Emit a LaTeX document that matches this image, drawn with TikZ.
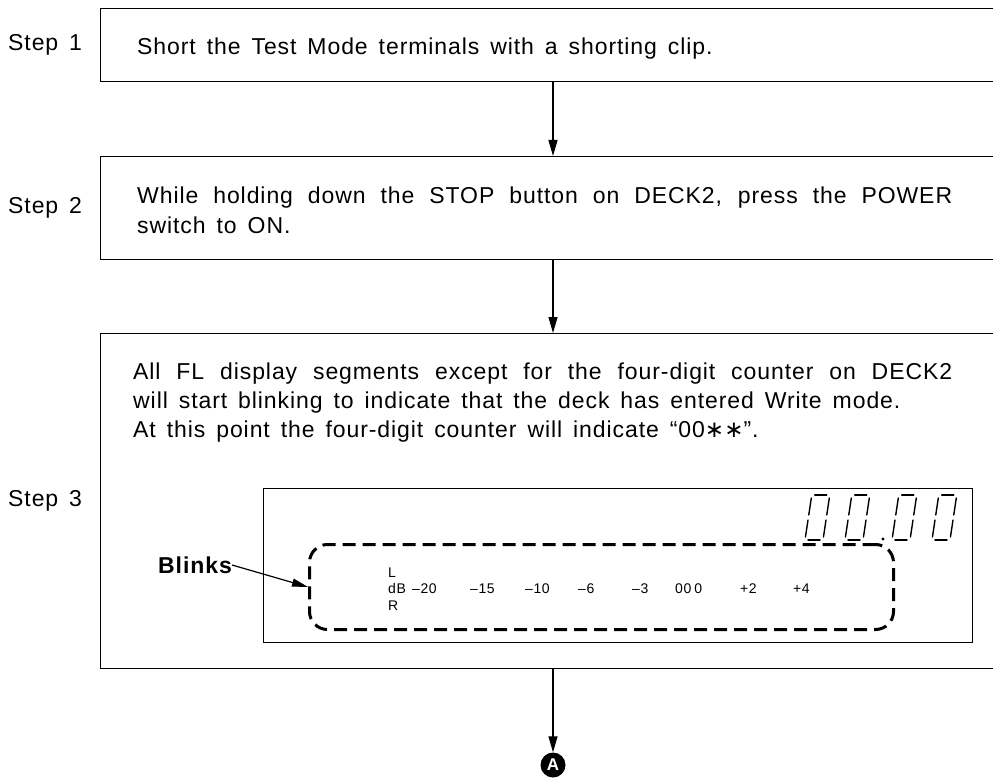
\documentclass[tikz,border=0pt]{standalone}
\usepackage{fontspec}
\setmainfont{Liberation Sans}[LetterSpace=4, WordSpace=1.5]
\newfontfamily\symfont{DejaVu Sans}
\usetikzlibrary{arrows.meta}

%% slanted seven-segment zero, #1 = lower left corner
\newcommand{\sevenzero}[1]{%
  \begin{scope}[shift={(#1)}, xslant=0.15, line width=1.4pt, line cap=round]
    \draw (3,-45) -- (15,-45);
    \draw (18,-42) -- (18,-25);
    \draw (18,-20) -- (18,-3);
    \draw (3,0) -- (15,0);
    \draw (0,-3) -- (0,-20);
    \draw (0,-25) -- (0,-42);
  \end{scope}}

\begin{document}
\begin{tikzpicture}[x=1pt, y=-1pt,
  every node/.style={font=\fontsize{23}{29}\selectfont, inner sep=0pt},
  stepbox/.style={draw, line width=1.4pt, rectangle, anchor=north west,
                  minimum width=930pt},
  steplabel/.style={anchor=west},
  boxtext/.style={anchor=north west, align=justify},
  flow/.style={line width=1.2pt, -{Triangle[length=16pt, width=9pt]}},
  display/.style={draw, line width=1.3pt, rectangle, anchor=north west,
                  minimum width=709pt, minimum height=154pt},
  blinkbox/.style={draw, line width=3pt, dash pattern=on 13pt off 7pt,
                   rounded corners=18pt, rectangle, anchor=north west,
                   minimum width=584pt, minimum height=85pt},
  scalelbl/.style={font=\fontsize{14}{15}\selectfont, anchor=base west},
  endmark/.style={circle, fill=black, text=white, minimum size=25pt,
                  font=\fontsize{17}{17}\selectfont\bfseries},
]
\useasboundingbox (0,0) rectangle (993,778);
\clip (0,0) rectangle (993,778);

%% ── Step boxes ──────────────────────────────────────────────────────────────
\node[stepbox, minimum height=73pt]  (box1) at (100,8)   {};
\node[stepbox, minimum height=103pt] (box2) at (100,156) {};
\node[stepbox, minimum height=335pt] (box3) at (100,333) {};

\node[steplabel] (lab1) at (8,44.5)  {Step 1};
\node[steplabel] (lab2) at (8,207.5) {Step 2};
\node[steplabel] (lab3) at (8,500.5) {Step 3};

%% ── Step texts ──────────────────────────────────────────────────────────────
\node[boxtext, text width=815pt] (txt1)
  at ([xshift=37pt, yshift=-30pt]box1.north west)
  {Short the Test Mode terminals with a shorting clip.};
\node[boxtext, text width=815pt, font=\fontsize{23}{30}\selectfont] (txt2)
  at ([xshift=37pt, yshift=-31pt]box2.north west)
  {While holding down the STOP button on DECK2, press the POWER\linebreak
   switch to ON.};
\node[boxtext, text width=819pt] (txt3)
  at ([xshift=33pt, yshift=-30pt]box3.north west)
  {All FL display segments except for the four-digit counter on DECK2\linebreak
   will start blinking to indicate that the deck has entered Write mode.\newline
   At this point the four-digit counter will indicate
   “00{\symfont\char"2217\char"2217}”.};

%% ── FL display ──────────────────────────────────────────────────────────────
\node[display]  (disp)  at (263,488) {};
\node[blinkbox] (blink) at (308,543) {};

\sevenzero{805,540}
\sevenzero{845,540}
\sevenzero{892,540}
\sevenzero{932,540}
\fill (883,539) circle (1.7);

\node[scalelbl] (lvl)  at (388,577) {L};
\node[scalelbl] (db)   at (388,593) {dB};
\node[scalelbl] (rvl)  at (388,610) {R};
\node[scalelbl] (m20)  at (412,593) {–20};
\node[scalelbl] (m15)  at (470,593) {–15};
\node[scalelbl] (m10)  at (525,593) {–10};
\node[scalelbl] (m6)   at (578,593) {–6};
\node[scalelbl] (m3)   at (632,593) {–3};
\node[scalelbl] (zero) at (675,593) {00\hspace{3pt}0};
\node[scalelbl] (p2)   at (740,593) {+2};
\node[scalelbl] (p4)   at (793,593) {+4};

\node[font=\fontsize{23}{29}\selectfont\bfseries] (blinks) at (195,565) {Blinks};
\draw[line width=1.2pt, -{Triangle[length=16pt, width=8pt]}]
  (blinks.east) -- (blink.west);

%% ── Flow arrows ─────────────────────────────────────────────────────────────
\coordinate (col) at (553,0);
\node[endmark] (markA) at (553,765) {A};
\draw[flow] (col |- box1.south) -- (col |- box2.north);
\draw[flow] (col |- box2.south) -- (col |- box3.north);
\draw[flow] (col |- box3.south) -- (markA.north);

\end{tikzpicture}
\end{document}
